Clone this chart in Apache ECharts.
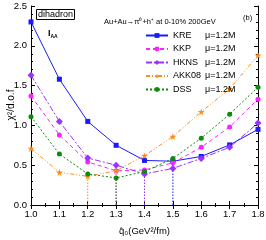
<!DOCTYPE html>
<html><head><meta charset="utf-8">
<script src="https://cdn.jsdelivr.net/npm/echarts@6/dist/echarts.min.js"></script>
<style>html,body{margin:0;padding:0;background:#fff}#c{width:266px;height:240px}</style>
</head><body><div id="c"></div>
<script>
const q = [1.0, 1.1, 1.2, 1.3, 1.4, 1.5, 1.6, 1.7, 1.8];
const KRE = [2.30, 1.58, 1.05, 0.75, 0.56, 0.55, 0.61, 0.755, 0.95];
const KKP = [1.37, 0.88, 0.54, 0.43, 0.44, 0.53, 0.725, 0.98, 1.33];
const HKNS = [1.63, 1.05, 0.59, 0.50, 0.39, 0.46, 0.585, 0.725, 1.03];
const AKK08 = [0.71, 0.41, 0.36, 0.43, 0.62, 0.86, 1.17, 1.46, 1.88];
const DSS = [1.11, 0.64, 0.39, 0.34, 0.42, 0.585, 0.84, 1.14, 1.48];
const names = ['KRE', 'KKP', 'HKNS', 'AKK08', 'DSS'];
const muLabel = 'μ=1.2M';
const xTicks = [1.0, 1.8, 0.1];
const yTicks = [0, 2.5, 0.5];

const STAR = 'path://M50,0 L61,35 L98,35 L68,57 L79,91 L50,70 L21,91 L32,57 L2,35 L39,35 Z';
const styles = {
  KRE:   {data: KRE,   color: '#1a1aff', type: 'solid', symbol: 'rect', size: 5},
  KKP:   {data: KKP,   color: '#ff22ff', type: [4, 3], symbol: 'circle', size: 5},
  HKNS:  {data: HKNS,  color: '#9a33ff', type: [6, 2, 2, 2], symbol: 'diamond', size: 7},
  AKK08: {data: AKK08, color: '#ff8c1a', type: [4, 2, 1, 2, 1, 2], symbol: STAR, size: 7},
  DSS:   {data: DSS,   color: '#0e8a0e', type: [2, 2], symbol: 'circle', size: 5}
};
const F = 'Liberation Sans, Arial, sans-serif';

const series = [];
['KKP', 'KRE', 'HKNS', 'AKK08', 'DSS'].forEach(n => {
  const s = styles[n];
  let mi = 0;
  s.data.forEach((v, i) => { if (v < s.data[mi]) mi = i; });
  series.push({
    type: 'line', silent: true, symbol: 'none', z: 1,
    data: [[q[mi], 0], [q[mi], s.data[mi]]],
    lineStyle: {color: s.color, width: 1, type: [1.5, 1.5]}
  });
});
names.forEach(n => {
  const s = styles[n];
  series.push({
    name: n, type: 'line', z: 3,
    data: q.map((x, i) => [x, s.data[i]]),
    symbol: s.symbol, symbolSize: s.size,
    itemStyle: {color: s.color},
    lineStyle: {color: s.color, width: 1, type: s.type}
  });
});

const axisCommon = {
  axisLine: {lineStyle: {color: '#000', width: 1}},
  axisTick: {inside: true, length: 4, lineStyle: {color: '#000'}},
  splitLine: {show: false}
};

const chart = echarts.init(document.getElementById('c'), null, {renderer: 'canvas'});
chart.setOption({
  animation: false,
  backgroundColor: '#fff',
  grid: {left: 31, right: 8, top: 6, bottom: 35, containLabel: false, outerBoundsMode: 'none'},
  title: [
    {text: 'dihadron', left: 36, top: 9, padding: [1, 2], borderColor: '#000', borderWidth: 1,
     textStyle: {fontFamily: F, fontSize: 9, fontWeight: 'normal', color: '#000'}},
    {text: '{a|I}{b|AA}', left: 48, top: 28, padding: 0,
     textStyle: {rich: {a: {fontFamily: F, fontSize: 9, color: '#000'}, b: {fontFamily: F, fontSize: 5, color: '#000', padding: [6, 0, 0, 0]}}}},
    {text: 'Au+Au→π⁰+h⁺ at 0-10% 200GeV', left: 104, top: 18, padding: 0,
     textStyle: {fontFamily: F, fontSize: 7.5, fontWeight: 'normal', color: '#000'}},
    {text: '(b)', left: 243, top: 14, padding: 0,
     textStyle: {fontFamily: F, fontSize: 7.5, fontWeight: 'normal', color: '#000'}}
  ],
  graphic: [{
    type: 'text', x: 11, y: 105, rotation: Math.PI / 2,
    style: {text: 'χ²/d.o.f', fontFamily: F, fontSize: 10, fill: '#000', align: 'center', verticalAlign: 'middle'}
  }],
  legend: {
    data: names, orient: 'vertical', left: 145, top: 31, itemWidth: 22, itemHeight: 6, itemGap: 4.5,
    padding: 0,
    formatter: n => '{n|' + n + '}{m|' + muLabel + '}',
    textStyle: {fontFamily: F, fontSize: 9, color: '#000',
      rich: {n: {width: 32, fontFamily: F, fontSize: 9, color: '#000'}, m: {fontFamily: F, fontSize: 9, color: '#000'}}}
  },
  xAxis: [
    Object.assign({}, axisCommon, {
      type: 'value', min: xTicks[0], max: xTicks[1], interval: xTicks[2],
      minorTick: {show: true, splitNumber: 2, length: 2, lineStyle: {color: '#000'}},
      axisLabel: {fontFamily: F, fontSize: 9.5, color: '#000', margin: 4, formatter: v => v.toFixed(1)},
      name: 'q̂₀(GeV²/fm)', nameLocation: 'middle', nameGap: 21,
      nameTextStyle: {fontFamily: F, fontSize: 9.5, color: '#000'}
    }),
    Object.assign({}, axisCommon, {
      type: 'value', position: 'top', min: xTicks[0], max: xTicks[1], interval: xTicks[2],
      minorTick: {show: true, splitNumber: 2, length: 2, lineStyle: {color: '#000'}},
      axisLabel: {show: false}
    })
  ],
  yAxis: [
    Object.assign({}, axisCommon, {
      type: 'value', min: yTicks[0], max: yTicks[1], interval: yTicks[2],
      minorTick: {show: true, splitNumber: 5, length: 2, lineStyle: {color: '#000'}},
      axisLabel: {fontFamily: F, fontSize: 9.5, color: '#000', margin: 4, formatter: v => v.toFixed(1)}
    }),
    Object.assign({}, axisCommon, {
      type: 'value', position: 'right', min: yTicks[0], max: yTicks[1], interval: yTicks[2],
      minorTick: {show: true, splitNumber: 5, length: 2, lineStyle: {color: '#000'}},
      axisLabel: {show: false}
    })
  ],
  series: series
});
</script></body></html>
